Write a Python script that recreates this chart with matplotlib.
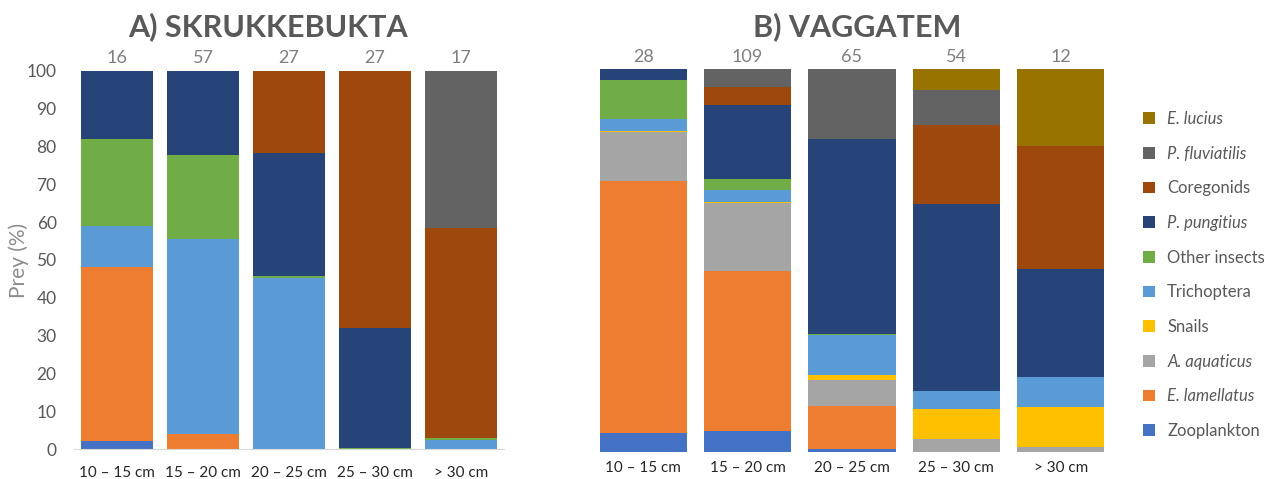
import numpy as np
import matplotlib.pyplot as plt
from matplotlib.patches import Patch
import matplotlib.transforms as mtransforms

plt.rcParams['font.family'] = ['Lato', 'DejaVu Sans']

sizes = ['10 – 15 cm', '15 – 20 cm', '20 – 25 cm', '25 – 30 cm', '> 30 cm']
prey = ['Zooplankton', 'E. lamellatus', 'A. aquaticus', 'Snails', 'Trichoptera',
        'Other insects', 'P. pungitius', 'Coregonids', 'P. fluviatilis', 'E. lucius']
italic = [False, True, True, False, False, False, True, False, True, True]
colors = ['#4472C4', '#ED7D31', '#A5A5A5', '#FFC000', '#5B9BD5',
          '#70AD47', '#264478', '#9E480E', '#636363', '#997300']

# A) Skrukkebukta, % per prey group
n_a = [16, 57, 27, 27, 17]
a_zoo = [2.1, 0, 0, 0, 0]
a_elam = [46.1, 3.9, 0, 0, 0]
a_aaq = [0, 0, 0, 0, 0]
a_snails = [0, 0, 0, 0, 0]
a_trich = [10.9, 51.7, 45.2, 0, 2.5]
a_other = [22.9, 22.2, 0.6, 0.3, 0.5]
a_ppung = [18.0, 22.2, 32.4, 31.6, 0]
a_coreg = [0, 0, 21.8, 68.1, 55.4]
a_pfluv = [0, 0, 0, 0, 41.6]
a_eluc = [0, 0, 0, 0, 0]

# B) Vaggatem
n_b = [28, 109, 65, 54, 12]
b_zoo = [4.8, 5.4, 0.6, 0, 0]
b_elam = [66.0, 41.8, 11.4, 0, 0]
b_aaq = [12.9, 17.8, 6.7, 3.2, 1.3]
b_snails = [0.2, 0.4, 1.4, 8.0, 10.3]
b_trich = [3.2, 3.0, 10.3, 4.6, 7.9]
b_other = [10.0, 2.8, 0.3, 0, 0]
b_ppung = [2.9, 19.4, 51.0, 48.9, 28.2]
b_coreg = [0, 4.7, 0, 20.7, 32.2]
b_pfluv = [0, 4.7, 18.3, 9.2, 0]
b_eluc = [0, 0, 0, 5.4, 20.1]

data_a = [a_zoo, a_elam, a_aaq, a_snails, a_trich, a_other, a_ppung, a_coreg, a_pfluv, a_eluc]
data_b = [b_zoo, b_elam, b_aaq, b_snails, b_trich, b_other, b_ppung, b_coreg, b_pfluv, b_eluc]

fig = plt.figure(figsize=(12.74, 4.79), dpi=100)
W, H = 1274, 479
ax_a = fig.add_axes([74 / W, 30 / H, 430 / W, 378 / H])
ax_b = fig.add_axes([591 / W, 27.3 / H, 522 / W, 382.4 / H])


def stacked(ax, data, counts, title, title_x, pad):
    x = np.arange(len(sizes))
    bottom = np.zeros(len(sizes))
    for vals, c in zip(data, colors):
        vals = np.array(vals, dtype=float)
        ax.bar(x, vals, 0.837, bottom=bottom, color=c, linewidth=0)
        bottom += vals
    ax.set_xlim(-0.5, len(sizes) - 0.5)
    ax.set_ylim(0, 100)
    ax.set_xticks(x)
    ax.set_xticklabels(sizes, fontsize=11, color='#262626')
    ax.tick_params(axis='x', length=0, pad=pad)
    for s in ['top', 'right', 'left']:
        ax.spines[s].set_visible(False)
    ax.spines['bottom'].set_color('#D9D9D9')
    trans = mtransforms.blended_transform_factory(ax.transData, ax.transAxes)
    for xi, n in zip(x, counts):
        ax.text(xi, 1.012, str(n), transform=trans, ha='center', va='bottom',
                fontsize=13, color='#7F7F7F')
    fig.text(title_x / W, 1 - 27 / H, title, ha='center', va='center',
             fontsize=22, fontweight='bold', color='#595959')


stacked(ax_a, data_a, n_a, 'A) SKRUKKEBUKTA', 268, 12)
stacked(ax_b, data_b, n_b, 'B) VAGGATEM', 857, 7)

ax_a.set_yticks(range(0, 101, 10))
ax_a.tick_params(axis='y', length=0, labelsize=12.5, labelcolor='#595959', pad=12.5)
ax_a.set_ylabel('Prey (%)', fontsize=15, color='#8C8C8C', labelpad=-2)
ax_b.set_yticks([])
ax_b.spines['bottom'].set_visible(False)

handles = [Patch(facecolor=c, edgecolor='none') for c in colors][::-1]
leg = fig.legend(handles, prey[::-1], loc='center left',
                 bbox_to_anchor=(1128 / W, 1 - 275 / H), frameon=False,
                 fontsize=12, labelspacing=1.12, handlelength=0.7,
                 handleheight=0.7, handletextpad=0.75)
for t, it in zip(leg.get_texts(), italic[::-1]):
    t.set_color('#595959')
    if it:
        t.set_style('italic')

fig.savefig('out.png', dpi=100)
